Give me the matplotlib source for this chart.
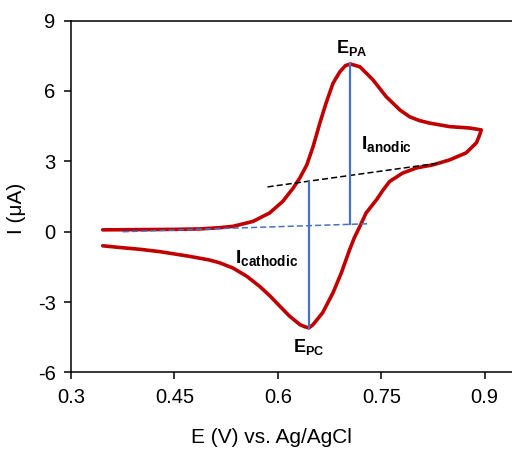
import numpy as np
import matplotlib
matplotlib.use('Agg')
import matplotlib.pyplot as plt

plt.rcParams['font.family'] = ['Liberation Sans', 'DejaVu Sans']
plt.rcParams['mathtext.fontset'] = 'custom'
plt.rcParams['mathtext.rm'] = 'Liberation Sans'
plt.rcParams['mathtext.bf'] = 'Liberation Sans:bold'
plt.rcParams['axes.unicode_minus'] = False

# forward (anodic) scan
fwd_x = [0.346, 0.40, 0.45, 0.487, 0.515, 0.535, 0.564, 0.588, 0.607, 0.622, 0.632,
         0.642, 0.651, 0.661, 0.670, 0.680, 0.690, 0.698, 0.705, 0.719, 0.738, 0.757,
         0.777, 0.791, 0.805, 0.820, 0.849, 0.878, 0.895]
fwd_y = [0.08, 0.09, 0.10, 0.12, 0.17, 0.23, 0.44, 0.8, 1.29, 1.85, 2.3,
         2.85, 3.62, 4.64, 5.49, 6.33, 6.82, 7.08, 7.15, 7.03, 6.47, 5.76,
         5.19, 4.9, 4.74, 4.63, 4.48, 4.42, 4.34]

# reverse (cathodic) scan
rev_x = [0.895, 0.893, 0.888, 0.873, 0.849, 0.825, 0.801, 0.781, 0.762, 0.752, 0.743,
         0.728, 0.719, 0.711, 0.704, 0.692, 0.680, 0.665, 0.651, 0.645, 0.639, 0.632,
         0.617, 0.603, 0.589, 0.574, 0.555, 0.535, 0.515, 0.50, 0.47, 0.429, 0.40,
         0.37, 0.346]
rev_y = [4.34, 4.15, 3.79, 3.36, 3.06, 2.85, 2.72, 2.5, 2.14, 1.75, 1.36,
         0.8, 0.23, -0.25, -0.77, -1.76, -2.6, -3.45, -3.96, -4.1, -4.05, -3.96,
         -3.6, -3.18, -2.75, -2.34, -1.9, -1.55, -1.32, -1.2, -1.04, -0.85, -0.75,
         -0.67, -0.6]

# peak lines and baselines
epa_x, epa_y = [0.705, 0.705], [0.34, 7.15]
epc_x, epc_y = [0.645, 0.645], [2.1, -4.1]
base_a_x, base_a_y = [0.375, 0.731], [0.0, 0.34]
base_c_x, base_c_y = [0.585, 0.837], [1.91, 2.94]

fig = plt.figure(figsize=(5.12, 4.49), dpi=100)
ax = fig.add_axes([0.1387, 0.1704, 1.01, 0.7838])

ax.plot(fwd_x + rev_x, fwd_y + rev_y, color='#C00000', lw=2.6,
        solid_joinstyle='round', solid_capstyle='round')
ax.plot(base_a_x, base_a_y, color='#4472C4', lw=1.1, ls=(0, (4, 2)))
ax.plot(base_c_x, base_c_y, color='black', lw=1.1, ls=(0, (4, 2)))
ax.plot(epa_x, epa_y, color='#4472C4', lw=1.6)
ax.plot(epc_x, epc_y, color='#4472C4', lw=1.6)

ax.text(0.707, 7.4, r'$\mathbf{E_{PA}}$', fontsize=13, ha='center', va='bottom')
ax.text(0.757, 3.75, r'$\mathbf{I_{anodic}}$', fontsize=14, ha='center', va='center')
ax.text(0.584, -1.1, r'$\mathbf{I_{cathodic}}$', fontsize=14, ha='center', va='center')
ax.text(0.645, -4.5, r'$\mathbf{E_{PC}}$', fontsize=13, ha='center', va='top')

ax.set_xlim(0.3, 1.05)
ax.set_ylim(-6, 9)
ax.set_xticks([0.3, 0.45, 0.6, 0.75, 0.9])
ax.set_xticklabels(['0.3', '0.45', '0.6', '0.75', '0.9'])
ax.set_yticks([-6, -3, 0, 3, 6, 9])
ax.tick_params(labelsize=14.5, width=1.1, length=5, pad=6, direction='out',
               top=False, right=False)
for s in ax.spines.values():
    s.set_linewidth(1.1)
ax.set_xlabel('E (V) vs. Ag/AgCl', fontsize=15)
ax.set_ylabel('I (μA)', fontsize=15)
ax.xaxis.set_label_coords(0.387, -0.158)
ax.yaxis.set_label_coords(-0.087, 0.467)

fig.savefig('out.png', dpi=100)
